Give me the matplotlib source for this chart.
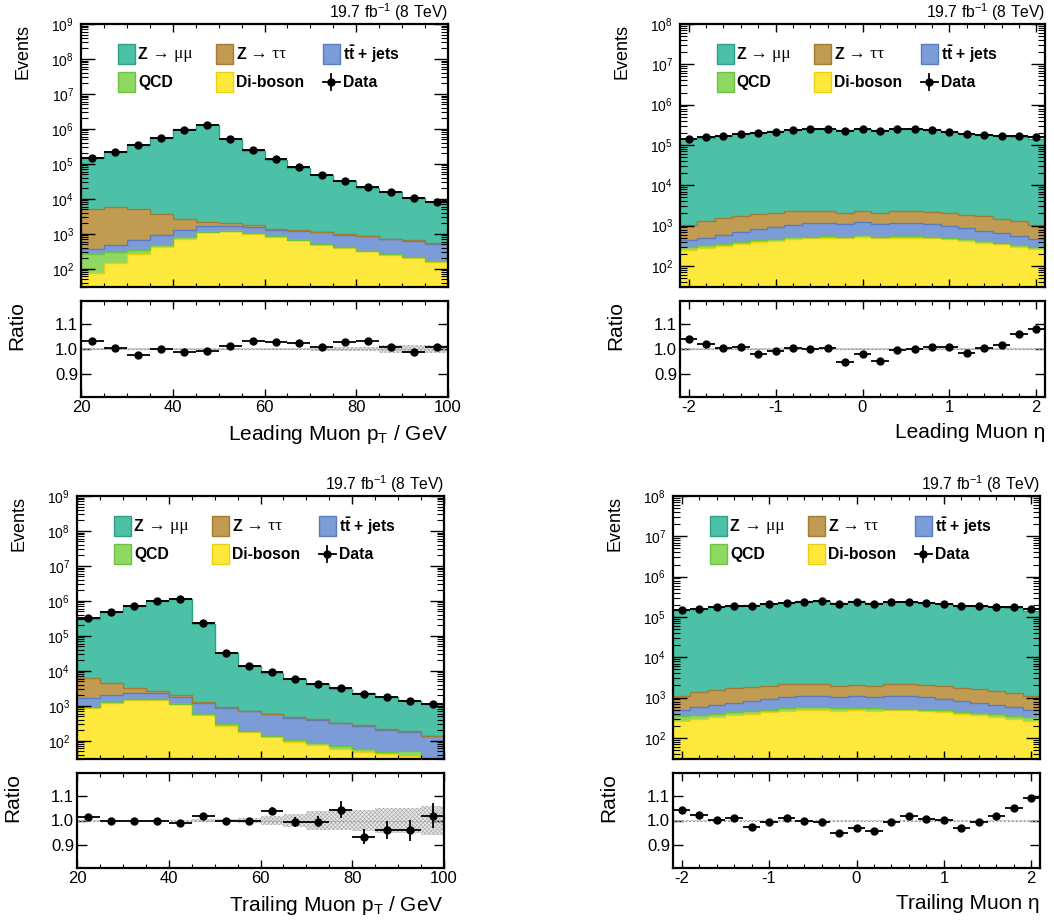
import numpy as np
import matplotlib
matplotlib.use('Agg')
import matplotlib.pyplot as plt
from matplotlib.ticker import LogLocator, NullFormatter, MultipleLocator, FixedLocator, FormatStrFormatter
from matplotlib.patches import Rectangle

plt.rcParams['font.family'] = ['Liberation Sans', 'DejaVu Sans']
plt.rcParams['mathtext.fontset'] = 'custom'
plt.rcParams['mathtext.rm'] = 'Liberation Sans'
plt.rcParams['mathtext.it'] = 'Liberation Sans:italic'
plt.rcParams['mathtext.bf'] = 'Liberation Sans:bold'
plt.rcParams['axes.unicode_minus'] = False
plt.rcParams['hatch.linewidth'] = 0.4

# ---- binning
pt_edges = np.arange(20, 101, 5)
eta_edges = np.round(np.linspace(-2.1, 2.1, 22), 2)

# ---- leading muon pT (events per bin)
lpt_zmm = [140000, 209200, 344800, 536300, 957300, 1257800, 518000, 238200,
           128600, 75700, 47800, 31000, 20100, 14800, 10050, 7450]
lpt_ztt = [4650, 5310, 4550, 2800, 1450, 540, 380, 250, 100, 80, 60, 50, 40, 30, 30, 25]
lpt_tt = [85, 190, 315, 410, 450, 510, 400, 500, 460, 520, 590, 530, 510, 430, 410, 350]
lpt_qcd = [193, 150, 65, 75, 80, 50, 50, 50, 40, 35, 25, 20, 15, 12, 10, 8]
lpt_vv = [77, 150, 270, 415, 720, 1100, 1170, 1000, 800, 645, 485, 390, 315, 250, 200, 160]
lpt_ratio = [1.034, 1.003, 0.974, 1.001, 0.989, 0.992, 1.012, 1.031,
             1.027, 1.026, 1.008, 1.028, 1.032, 1.009, 0.989, 1.009]
lpt_ratio_err = [0.003] * 12 + [0.004, 0.005, 0.005, 0.006]
lpt_band = [0.004, 0.003, 0.003, 0.003, 0.003, 0.003, 0.003, 0.004,
            0.005, 0.006, 0.008, 0.009, 0.010, 0.015, 0.017, 0.017]

# ---- leading muon eta
leta_zmm = [137000, 150700, 167500, 180300, 196100, 213900, 227800, 241700, 245700, 235900, 251700,
            234900, 247700, 246700, 226800, 211000, 187100, 176300, 165500, 155700, 142000]
leta_ztt = [610, 770, 905, 1000, 1095, 1160, 1220, 1200, 1150, 1010, 1110,
            1010, 1150, 1150, 1110, 1090, 1010, 960, 830, 730, 580]
leta_tt = [140, 175, 240, 300, 365, 445, 520, 600, 630, 540, 640,
           535, 630, 630, 560, 460, 400, 310, 270, 210, 160]
leta_qcd = [50, 47, 45, 47, 50, 53, 55, 48, 50, 48, 60, 53, 50, 50, 48, 45, 45, 40, 40, 30, 40]
leta_vv = [250, 278, 310, 343, 390, 422, 455, 482, 500, 482, 520,
           482, 500, 500, 482, 455, 415, 380, 340, 302, 258]
leta_ratio = [1.039, 1.020, 1.005, 1.007, 0.980, 0.992, 1.003, 1.000, 1.003, 0.949, 0.980,
              0.953, 0.995, 1.000, 1.009, 1.007, 0.984, 1.003, 1.016, 1.060, 1.083]
leta_ratio_err = [0.004] * 21
leta_band = [0.004] * 21

# ---- trailing muon pT
tpt_zmm = [303700, 475400, 706700, 1017350, 1148000, 222700, 31080, 13090,
           8110, 5230, 3700, 2670, 2020, 1590, 1220, 990]
tpt_ztt = [4680, 2550, 920, 370, 210, 90, 30, 20, 15, 12, 10, 8, 6, 5, 4, 3]
tpt_tt = [670, 810, 840, 740, 630, 655, 590, 497, 435, 353, 309, 249, 210, 156, 128, 108]
tpt_qcd = [60, 60, 60, 120, 60, 35, 30, 21, 16, 13, 11, 11, 9, 7, 16, 5]
tpt_vv = [890, 1180, 1480, 1420, 1100, 540, 270, 172, 124, 94, 75, 58, 49, 42, 36, 20]
tpt_ratio = [1.013, 1.000, 0.997, 0.997, 0.989, 1.018, 0.999, 0.999,
             1.041, 0.993, 0.995, 1.045, 0.934, 0.961, 0.959, 1.020]
tpt_ratio_err = [0.003, 0.002, 0.002, 0.002, 0.002, 0.003, 0.005, 0.008,
                 0.015, 0.020, 0.023, 0.034, 0.032, 0.037, 0.042, 0.050]
tpt_band = [0.004, 0.003, 0.003, 0.003, 0.004, 0.005, 0.008, 0.012,
            0.020, 0.025, 0.040, 0.040, 0.045, 0.050, 0.050, 0.060]

# ---- trailing muon eta
teta_zmm = [143900, 155650, 171450, 184300, 191160, 210010, 223820, 239780, 240780, 225100, 242900,
            223100, 236820, 230780, 217940, 208100, 187220, 182400, 173530, 162750, 142890]
teta_ztt = [580, 765, 890, 960, 995, 1060, 1160, 1100, 1100, 860, 980,
            860, 1090, 1130, 1050, 970, 935, 860, 810, 725, 610]
teta_tt = [155, 220, 265, 310, 380, 430, 475, 535, 535, 475, 555,
           495, 557, 568, 510, 445, 405, 325, 265, 218, 165]
teta_qcd = [80, 70, 65, 65, 65, 70, 80, 95, 95, 100, 80, 80, 50, 40, 40, 50, 40, 50, 60, 60, 75]
teta_vv = [260, 295, 330, 365, 400, 430, 460, 485, 485, 460, 485,
           460, 485, 485, 460, 432, 400, 365, 330, 295, 260]
teta_ratio = [1.045, 1.021, 1.003, 1.009, 0.972, 0.992, 1.009, 0.999, 0.995, 0.947, 0.969,
              0.957, 0.992, 1.017, 1.008, 1.001, 0.969, 0.995, 1.017, 1.052, 1.091]
teta_ratio_err = [0.004] * 21
teta_band = [0.004] * 21

face = {'zmm': '#4cc1a7', 'ztt': '#c19b52', 'tt': '#7b9cd6', 'qcd': '#8fd862', 'vv': '#ffe83c'}
edge = {'zmm': '#2f9f86', 'ztt': '#a37c34', 'tt': '#5a7cc0', 'qcd': '#6cc241', 'vv': '#e8d010'}
order = ['vv', 'qcd', 'tt', 'ztt', 'zmm']


def add_legend(ax):
    cols = [0.100, 0.368, 0.659]
    rows = [0.885, 0.778]
    pw, ph = 0.047, 0.076
    fs = 11.3
    serif = ['Liberation Serif', 'DejaVu Serif']
    for key, c, r in [('zmm', 0, 0), ('ztt', 1, 0), ('tt', 2, 0), ('qcd', 0, 1), ('vv', 1, 1)]:
        ax.add_patch(Rectangle((cols[c], rows[r] - ph / 2), pw, ph, transform=ax.transAxes,
                               facecolor=face[key], edgecolor=edge[key], lw=1.0, clip_on=False))
    tx = pw + 0.008
    t1 = ax.text(cols[0] + tx, rows[0], 'Z', fontsize=fs, weight='bold', va='center',
                 transform=ax.transAxes)
    ax.annotate(' \u2192 \u03bc\u03bc', xy=(1, 0), xycoords=t1, va='bottom', ha='left',
                fontsize=12.5, family=serif)
    t2 = ax.text(cols[1] + tx, rows[0], 'Z', fontsize=fs, weight='bold', va='center',
                 transform=ax.transAxes)
    ax.annotate(' \u2192 \u03c4\u03c4', xy=(1, 0), xycoords=t2, va='bottom', ha='left',
                fontsize=12.5, family=serif)
    ax.text(cols[2] + tx, rows[0], 't$\\mathbf{\\bar{t}}$ + jets', fontsize=fs, weight='bold',
            va='center', transform=ax.transAxes)
    ax.text(cols[0] + tx, rows[1], 'QCD', fontsize=fs, weight='bold', va='center',
            transform=ax.transAxes)
    ax.text(cols[1] + tx, rows[1], 'Di-boson', fontsize=fs, weight='bold', va='center',
            transform=ax.transAxes)
    # data marker
    cx = cols[2] + pw / 2
    y = rows[1]
    ax.plot([cols[2], cols[2] + pw], [y, y], color='k', lw=1.3, transform=ax.transAxes, clip_on=False)
    ax.plot([cx, cx], [y - ph / 2 * 0.8, y + ph / 2 * 0.8], color='k', lw=1.3,
            transform=ax.transAxes, clip_on=False)
    ax.plot([cx], [y], 'o', color='k', ms=5, transform=ax.transAxes, clip_on=False)
    ax.text(cols[2] + tx, rows[1], 'Data', fontsize=fs, weight='bold', va='center',
            transform=ax.transAxes)


def draw_panel(ax, axr, edges, comps, ratio, ratio_err, band, ymax, xlabel,
               xmajor, xminor, xticks):
    centers = 0.5 * (edges[:-1] + edges[1:])
    half = 0.5 * np.diff(edges)
    cum = np.zeros(len(centers))
    tops = {}
    for key in order:
        vals = np.asarray(comps[key], dtype=float)
        base = np.where(cum > 0, cum, 1.0)
        tops[key] = cum + vals
        ax.stairs(cum + vals, edges, baseline=base, fill=True, facecolor=face[key], lw=0)
        cum = cum + vals
    for key in order:
        ax.stairs(tops[key], edges, baseline=None, color=edge[key], lw=1.0)
    total = cum
    data = np.asarray(ratio) * total
    ax.errorbar(centers, data, xerr=half, fmt='o', color='k', ms=5, elinewidth=1.4, capsize=0)

    ax.set_yscale('log')
    ax.set_ylim(30, ymax)
    ax.set_xlim(edges[0], edges[-1])
    ax.yaxis.set_major_locator(LogLocator(base=10, numticks=20))
    ax.yaxis.set_minor_locator(LogLocator(base=10, subs=np.arange(2, 10), numticks=40))
    ax.yaxis.set_minor_formatter(NullFormatter())
    ax.xaxis.set_major_locator(MultipleLocator(xmajor))
    ax.xaxis.set_minor_locator(MultipleLocator(xminor))
    ax.xaxis.set_major_formatter(NullFormatter())
    ax.tick_params(which='both', direction='in', top=True, right=True)
    ax.tick_params(axis='y', which='major', length=10, width=1.0, labelsize=10, pad=5)
    ax.tick_params(axis='y', which='minor', length=5, width=0.8)
    ax.tick_params(axis='x', which='major', length=6, width=1.0)
    ax.tick_params(axis='x', which='minor', length=3, width=0.8)
    ax.set_ylabel('Events', fontsize=13, loc='top')
    ax.yaxis.set_label_coords(-0.135, 1.0)
    ax.text(1.0, 1.023, '19.7 fb$^{-1}$ (8 TeV)', fontsize=11.3, ha='right', va='baseline',
            transform=ax.transAxes)
    add_legend(ax)

    # ratio panel
    b = np.asarray(band)
    axr.stairs(1 + b, edges, baseline=1 - b, fill=True, facecolor='#e6e6e6',
               edgecolor='#a8a8a8', hatch='xxxxxxxx', lw=0)
    axr.axhline(1.0, color='#a0a0a0', lw=0.8, ls=(0, (2, 1.5)))
    axr.errorbar(centers, ratio, xerr=half, yerr=ratio_err, fmt='o', color='k', ms=5,
                 elinewidth=1.3, capsize=0)
    axr.set_xlim(edges[0], edges[-1])
    axr.set_ylim(0.805, 1.195)
    axr.yaxis.set_major_locator(FixedLocator([0.9, 1.0, 1.1]))
    axr.yaxis.set_major_formatter(FormatStrFormatter('%.1f'))
    axr.xaxis.set_major_locator(FixedLocator(xticks))
    axr.xaxis.set_minor_locator(MultipleLocator(xminor))
    axr.tick_params(which='both', direction='in', top=True, right=True)
    axr.tick_params(axis='y', which='major', length=7, width=1.0, labelsize=12, pad=2)
    axr.tick_params(axis='x', which='major', length=6, width=1.0, labelsize=12, pad=2)
    axr.tick_params(axis='x', which='minor', length=3, width=0.8)
    axr.set_ylabel('Ratio', fontsize=15, loc='top')
    axr.yaxis.set_label_coords(-0.15, 1.0)
    axr.set_xlabel(xlabel, fontsize=15, loc='right', labelpad=6)

    for a in (ax, axr):
        for s in a.spines.values():
            s.set_linewidth(1.6)


fig = plt.figure(figsize=(10.54, 9.24), dpi=100)
W, H = 1054.0, 924.0


def box(l, r, t, b):
    return [l / W, 1 - b / H, (r - l) / W, (b - t) / H]


panels = [
    (box(81, 448, 24, 287), box(81, 448, 301, 397), pt_edges,
     dict(zmm=lpt_zmm, ztt=lpt_ztt, tt=lpt_tt, qcd=lpt_qcd, vv=lpt_vv),
     lpt_ratio, lpt_ratio_err, lpt_band, 1e9, 'Leading Muon $\\mathregular{p_T}$ / GeV',
     20, 5, [20, 40, 60, 80, 100]),
    (box(680, 1045, 24, 287), box(680, 1045, 301, 397), eta_edges,
     dict(zmm=leta_zmm, ztt=leta_ztt, tt=leta_tt, qcd=leta_qcd, vv=leta_vv),
     leta_ratio, leta_ratio_err, leta_band, 1e8, 'Leading Muon \u03b7',
     1, 0.2, [-2, -1, 0, 1, 2]),
    (box(77, 444, 496, 759), box(77, 444, 773, 868), pt_edges,
     dict(zmm=tpt_zmm, ztt=tpt_ztt, tt=tpt_tt, qcd=tpt_qcd, vv=tpt_vv),
     tpt_ratio, tpt_ratio_err, tpt_band, 1e9, 'Trailing Muon $\\mathregular{p_T}$ / GeV',
     20, 5, [20, 40, 60, 80, 100]),
    (box(673, 1040, 496, 759), box(673, 1040, 773, 868), eta_edges,
     dict(zmm=teta_zmm, ztt=teta_ztt, tt=teta_tt, qcd=teta_qcd, vv=teta_vv),
     teta_ratio, teta_ratio_err, teta_band, 1e8, 'Trailing Muon \u03b7',
     1, 0.2, [-2, -1, 0, 1, 2]),
]

for pm, pr, edges, comps, ratio, rerr, band, ymax, xlabel, xmaj, xmin, xt in panels:
    ax = fig.add_axes(pm)
    axr = fig.add_axes(pr)
    draw_panel(ax, axr, edges, comps, ratio, rerr, band, ymax, xlabel, xmaj, xmin, xt)

fig.savefig('out.png', dpi=100)
